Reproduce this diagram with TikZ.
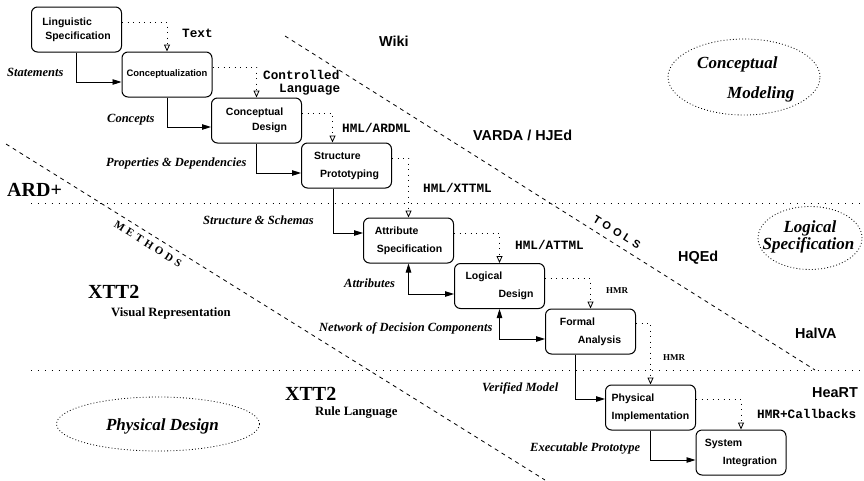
\documentclass[tikz,border=0pt]{standalone}
\usepackage{fontspec}
\setmainfont{Liberation Serif}
\setsansfont{Liberation Sans}
\setmonofont{Liberation Mono}
\usetikzlibrary{arrows.meta,shapes.geometric}
\begin{document}
\begin{tikzpicture}[x=1pt,y=-1pt,
  box/.style={draw, line width=1pt, rounded corners=6pt, minimum width=90pt, minimum height=45pt,
    inner sep=0pt, align=left, font=\sffamily\bfseries\fontsize{10.5}{18}\selectfont},
  flow/.style={line width=0.9pt, -{Triangle[length=9pt,width=5.5pt]}},
  bflow/.style={line width=0.9pt, {Triangle[length=9pt,width=5.5pt]}-{Triangle[length=9pt,width=5.5pt]}},
  dataflow/.style={line width=0.8pt, dash pattern=on 0.9pt off 4.6pt, -{Triangle[open,length=7pt,width=6pt]}},
  hline/.style={line width=0.8pt, dash pattern=on 0.9pt off 6pt},
  diag/.style={line width=0.8pt, dash pattern=on 4pt off 4pt},
  phaseline/.style={line width=0.8pt, dash pattern=on 0.9pt off 2.2pt},
  txt/.style={inner sep=0pt, anchor=base west},
  tool/.style={txt, font=\sffamily\bfseries\fontsize{14.4}{17}\selectfont},
  meth/.style={txt, font=\bfseries\fontsize{20}{24}\selectfont},
  sub/.style={txt, font=\bfseries\fontsize{12.7}{15}\selectfont},
  flab/.style={txt, font=\bfseries\itshape\fontsize{12.5}{15}\selectfont},
  fmt/.style={txt, font=\ttfamily\bfseries\fontsize{12.7}{13}\selectfont},
  hmr/.style={txt, font=\bfseries\fontsize{9}{10}\selectfont},
  phase/.style={txt, font=\bfseries\itshape\fontsize{17}{20}\selectfont},
]
\useasboundingbox (0,0) rectangle (864,480);

% layer separators
\draw[hline] (31,203) -- (862,203);
\draw[hline] (31,370) -- (862,370);
\draw[diag] (6,144) -- (545,480);
\draw[diag] (285,36) -- (815,370);
\node[inner sep=0pt, rotate=-32, font=\bfseries\fontsize{11}{12}\selectfont\addfontfeature{LetterSpace=32}] (methods) at (148,244)
  {METHODS};
\node[inner sep=0pt, rotate=-32, font=\sffamily\bfseries\fontsize{11}{12}\selectfont\addfontfeature{LetterSpace=36}] (tools) at (617,232)
  {TOOLS};

% phase ellipses
\node[draw, phaseline, ellipse, minimum width=152pt, minimum height=76pt] (cm) at (744,77) {};
\node[phase] (cmt1) at (697,68) {Conceptual};
\node[phase] (cmt2) at (727,98) {Modeling};
\node[draw, phaseline, ellipse, minimum width=104pt, minimum height=63pt] (ls) at (810,238) {};
\node[phase, anchor=base] (lst1) at (810,232) {Logical};
\node[phase, anchor=base] (lst2) at (808.5,249) {Specification};
\node[draw, phaseline, ellipse, minimum width=203pt, minimum height=54pt] (pd) at (158,424) {};
\node[phase, anchor=base] (pdt) at (162.5,430) {Physical Design};

% tools and methods
\node[tool] (wiki) at (379,46) {Wiki};
\node[tool] (varda) at (473,140) {VARDA / HJEd};
\node[tool] (hqed) at (678,261) {HQEd};
\node[tool] (halva) at (795,338) {HalVA};
\node[tool] (heart) at (812,397) {HeaRT};
\node[meth] (ard) at (7,196) {ARD+};
\node[meth] (xtt1) at (88,298) {XTT2};
\node[sub] (vis) at (111,316) {Visual Representation};
\node[meth] (xtt2) at (285,400) {XTT2};
\node[sub] (rule) at (315,415) {Rule Language};

% process boxes
\node[box] (b1) at (76.5,29.5) {Linguistic\\[-4pt]\hspace*{3pt}Specification};
\node[box, font=\sffamily\bfseries\fontsize{9.4}{18}\selectfont] (b2) at (167,74.5) {Conceptualization};
\node[box] (b3) at (256.5,120.5) {Conceptual\\[-3pt]\hspace*{26pt}Design};
\node[box] (b4) at (346.5,165.5) {Structure\\\hspace*{6pt}Prototyping};
\node[box] (b5) at (408.5,240.5) {Attribute\\\hspace*{2pt}Specification};
\node[box] (b6) at (499.5,286) {Logical\\\hspace*{33pt}Design};
\node[box] (b7) at (590.5,331.5) {Formal\\\hspace*{18pt}Analysis};
\node[box] (b8) at (650.5,407.5) {Physical\\Implementation};
\node[box] (b9) at (741,452.5) {System\\\hspace*{18pt}Integration};

% process flow
\draw[flow] (b1.south) |- ([yshift=-7.5pt]b2.west);
\draw[flow] (b2.south) |- ([yshift=-6.5pt]b3.west);
\draw[flow] (b3.south) |- ([yshift=-7.5pt]b4.west);
\draw[flow] ([xshift=-13.5pt]b4.south) |- ([yshift=7.5pt]b5.west);
\draw[bflow] (b5.south) |- ([yshift=-8pt]b6.west);
\draw[bflow] (b6.south) |- ([yshift=-7.5pt]b7.west);
\draw[flow] ([xshift=-15pt]b7.south) |- ([yshift=8.5pt]b8.west);
\draw[flow] (b8.south) |- ([yshift=-7.5pt]b9.west);

% data flow
\draw[dataflow] ([yshift=7.5pt]b1.east) -| (b2.north);
\draw[dataflow] ([yshift=7.5pt]b2.east) -| (b3.north);
\draw[dataflow] ([yshift=7.5pt]b3.east) -| ([xshift=-14pt]b4.north);
\draw[dataflow] ([yshift=7.5pt]b4.east) -| (b5.north);
\draw[dataflow] ([yshift=7.5pt]b5.east) -| (b6.north);
\draw[dataflow] ([yshift=7.5pt]b6.east) -| (b7.north);
\draw[dataflow] ([yshift=8.5pt]b7.east) -| (b8.north);
\draw[dataflow] ([yshift=8.5pt]b8.east) -| (b9.north);

% flow labels
\node[flab] (l1) at (7,76) {Statements};
\node[flab] (l2) at (107,122) {Concepts};
\node[flab] (l3) at (106,166) {Properties \& Dependencies};
\node[flab] (l4) at (203,224) {Structure \& Schemas};
\node[flab] (l5) at (344,287) {Attributes};
\node[flab] (l6) at (319,331) {Network of Decision Components};
\node[flab] (l7) at (482,391) {Verified Model};
\node[flab] (l8) at (530,451) {Executable Prototype};

% format labels
\node[fmt] (f1) at (182,37) {Text};
\node[fmt] (f2a) at (263,79) {Controlled};
\node[fmt] (f2b) at (279,92) {Language};
\node[fmt] (f3) at (342,132) {HML/ARDML};
\node[fmt] (f4) at (423,192) {HML/XTTML};
\node[fmt] (f5) at (515,249) {HML/ATTML};
\node[hmr] (f6) at (606,293) {HMR};
\node[hmr] (f7) at (663,360) {HMR};
\node[fmt] (f8) at (757,418) {HMR+Callbacks};
\end{tikzpicture}
\end{document}
